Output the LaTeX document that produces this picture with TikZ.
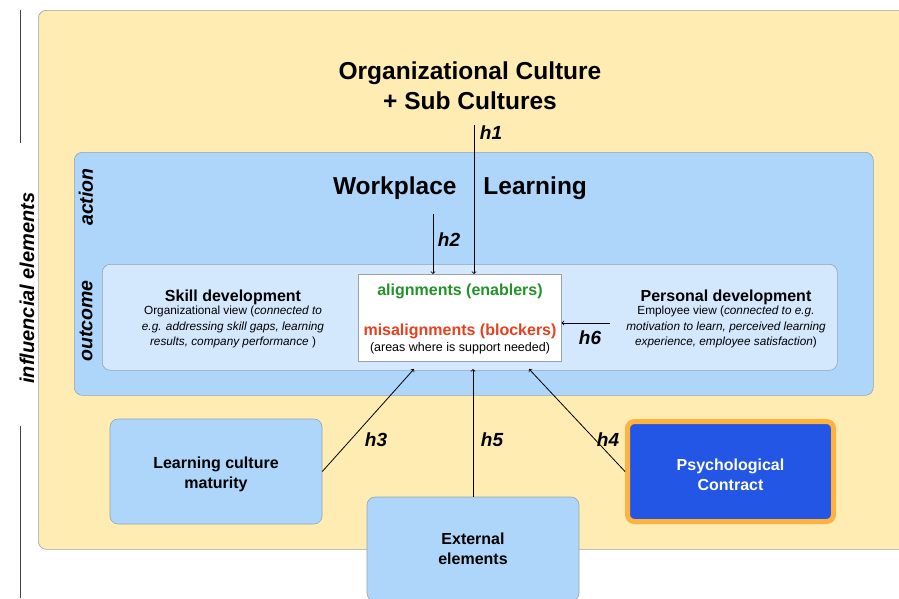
\documentclass[tikz,border=0pt]{standalone}
\usepackage{fontspec}
\setmainfont{Liberation Sans}
\definecolor{cultureyellow}{HTML}{FEECB3}
\definecolor{actionblue}{HTML}{AED6FB}
\definecolor{outcomeblue}{HTML}{D3E7FD}
\definecolor{contractblue}{HTML}{2356E5}
\definecolor{contractorange}{HTML}{FFB23E}
\definecolor{framegray}{HTML}{98A2AC}
\definecolor{alignedgreen}{HTML}{22922A}
\definecolor{blockedred}{HTML}{E5411D}
\begin{document}
\begin{tikzpicture}[x=1pt, y=-1pt,
  box/.style = {draw=framegray, line width=0.6pt, rounded corners=8pt, inner sep=0pt},
  bigtitle/.style = {font=\fontsize{24.5}{30}\selectfont\bfseries, align=center},
  boxtitle/.style = {font=\fontsize{16}{20}\selectfont\bfseries, align=center},
  bodytext/.style = {font=\fontsize{11.8}{15.5}\selectfont, align=center},
  sidetext/.style = {font=\fontsize{19.5}{19.5}\selectfont\bfseries\itshape, rotate=90},
  hlabel/.style = {font=\fontsize{19}{19}\selectfont\bfseries\itshape},
  arr/.style = {->, line width=0.8pt}]
\useasboundingbox (0,0) rectangle (899,598);
\clip (0,0) rectangle (899,598);
\fill[white] (0,0) rectangle (899,598);

\draw[line width=1pt, black!75] (20,10) -- (20,143);
\draw[line width=1pt, black!75] (20,426) -- (20,598);
\node[sidetext, font=\fontsize{20}{20}\selectfont\bfseries\itshape] (infl) at (27,288) {influencial elements};

\node[box, fill=cultureyellow, anchor=north west, minimum width=880, minimum height=539] (culture) at (38,10) {};
\node[box, fill=actionblue, anchor=north west, minimum width=799, minimum height=243] (action) at (74,152) {};
\node[box, fill=outcomeblue, anchor=north west, minimum width=735, minimum height=106] (outcome) at (102,264) {};
\node[draw=framegray, line width=0.6pt, fill=white, anchor=north west, minimum width=203, minimum height=87, inner sep=0pt] (gaps) at (358,274) {};

\node[bigtitle] (orgc) at (470,86) {Organizational Culture\\+ Sub Cultures};
\node[bigtitle] (wpl) at (460,188) {Workplace\hspace{27pt}Learning};
\node[sidetext] (act) at (86,197) {action};
\node[sidetext] (outc) at (86,321) {outcome};

\node[boxtitle] (skill) at (233,297) {Skill development};
\node[bodytext] (skillv) at (233,327) {Organizational view (\textit{connected to}\\\textit{e.g. addressing skill gaps, learning}\\\textit{results, company performance} )};
\node[boxtitle] (pers) at (726,297) {Personal development};
\node[bodytext] (persv) at (726,327) {Employee view (\textit{connected to e.g.}\\\textit{motivation to learn, perceived learning}\\\textit{experience, employee satisfaction})};

\node[boxtitle, text=alignedgreen] (ena) at (460,291) {alignments (enablers)};
\node[boxtitle, text=blockedred] (blk) at (460,331) {misalignments (blockers)};
\node[bodytext, font=\fontsize{12.5}{14}\selectfont] (need) at (460,348) {(areas where is support needed)};

\node[box, fill=actionblue, minimum width=212, minimum height=105] (lcm) at (216,471.5) {};
\node[boxtitle] at ([yshift=-3pt]lcm.center) {Learning culture\\maturity};
\node[box, fill=actionblue, minimum width=212, minimum height=104] (ext) at (473,549) {};
\node[boxtitle] at (ext) {External\\elements};
\node[box, draw=contractorange, line width=5pt, rounded corners=7pt, fill=contractblue, minimum width=206, minimum height=100] (psy) at (730.5,471.5) {};
\node[boxtitle, text=white] at ([yshift=-3pt]psy.center) {Psychological\\Contract};

\coordinate (h1top) at (474,125);
\coordinate (h2top) at (433,214);
\coordinate (h6end) at (610,323);
\coordinate (h3tip) at (414,369);
\coordinate (h5tip) at (473,369);
\coordinate (h4tip) at (529,369);
\draw[arr] (h1top) -- (h1top |- gaps.north);
\draw[arr] (h2top) -- (h2top |- gaps.north);
\draw[arr] (h6end) -- (h6end -| gaps.east);
\draw[arr] (lcm.east) -- (h3tip);
\draw[arr] (ext.north) -- (h5tip);
\draw[arr] (psy.west) -- (h4tip);

\foreach \n/\x/\y in {1/491/133, 2/449/240, 3/376/440, 4/608/440, 5/492/440, 6/590/338}
  {\node[hlabel] (h\n) at (\x,\y) {h\n};}

\end{tikzpicture}
\end{document}
